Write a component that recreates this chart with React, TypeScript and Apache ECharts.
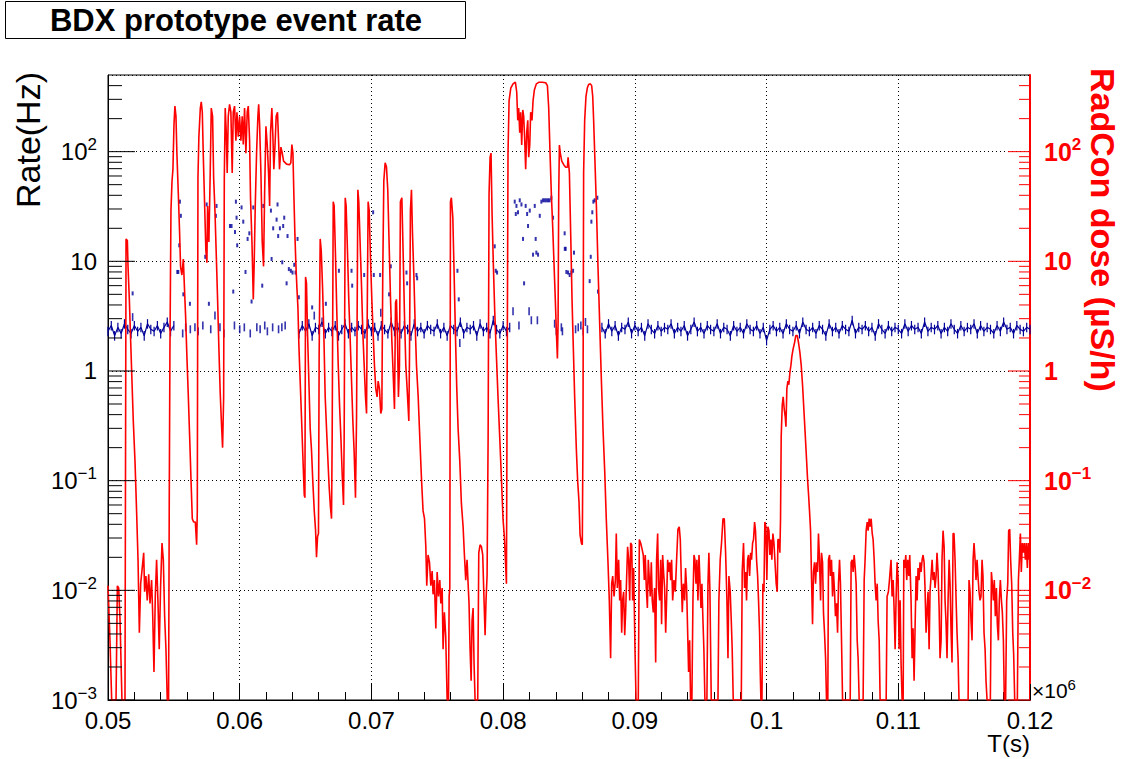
import React, { useEffect, useRef } from "react";
import * as echarts from "echarts";

// time in units of 10^3 s (axis labels are shown in units of 10^6 s)
const T_MIN = 50;
const T_MAX = 120;
const T_STEP = 10;
const Y_MIN = 0.001;
const Y_MAX = 500;

const titleText = "BDX prototype event rate";
const leftAxisTitle = "Rate(Hz)";
const rightAxisTitle = "RadCon dose (\u00b5S/h)";
const xAxisTitle = "T(s)";
const decadeExponents = [-3, -2, -1, 0, 1, 2];

// RadCon dose (uS/h) vs time
const radconDose: [number, number][] = [
  [50.0, 0.011], [50.15, 0.0035], [50.28, 0.001], [50.61, 0.001], [50.71, 0.011], [50.81, 0.0105], [50.91, 0.0055], [51.06, 0.001], [51.29, 0.001],
  [51.37, 16], [51.47, 15.5], [51.52, 9], [51.62, 4.5], [51.72, 1.9], [51.82, 0.81], [51.92, 0.35], [52.05, 0.15], [52.17, 0.053], [52.28, 0.019],
  [52.38, 0.0041], [52.48, 0.0115], [52.6, 0.016], [52.71, 0.022], [52.78, 0.0097], [52.88, 0.0135], [52.98, 0.0081], [53.09, 0.014], [53.19, 0.0076],
  [53.31, 0.0124], [53.39, 0.0063], [53.49, 0.0018], [53.59, 0.0088], [53.69, 0.019], [53.79, 0.0081], [53.89, 0.0029], [53.99, 0.0105], [54.1, 0.027],
  [54.2, 0.019], [54.3, 0.0058], [54.4, 0.0029], [54.5, 0.001], [54.6, 0.001], [54.65, 0.062], [54.7, 1.36], [54.78, 29], [54.86, 54], [54.93, 69],
  [55.01, 177], [55.08, 260], [55.16, 210], [55.23, 97], [55.34, 41], [55.44, 17.6], [55.51, 8.9], [55.61, 7.5], [55.72, 10.5], [55.79, 6.3],
  [55.89, 3.2], [55.99, 1.36], [56.09, 0.63], [56.2, 0.25], [56.3, 0.104], [56.4, 0.045], [56.5, 0.042], [56.63, 0.042], [56.73, 0.026], [56.78, 0.053],
  [56.83, 58], [56.9, 137], [57.01, 250], [57.08, 284], [57.16, 229], [57.23, 97], [57.33, 35], [57.43, 12.5], [57.51, 9.7], [57.56, 32], [57.66, 15],
  [57.76, 64], [57.84, 250], [57.94, 210], [58.02, 58], [58.12, 29], [58.22, 11.5], [58.32, 4.5], [58.42, 1.6], [58.52, 0.63], [58.62, 0.32], [58.7, 0.2],
  [58.78, 0.58], [58.83, 58], [58.9, 250], [58.98, 149], [59.05, 64], [59.13, 210], [59.23, 270], [59.33, 229], [59.43, 64], [59.51, 229], [59.61, 260],
  [59.71, 126], [59.79, 229], [59.89, 137], [59.99, 210], [60.09, 126], [60.19, 210], [60.27, 116], [60.37, 250], [60.47, 97], [60.57, 229], [60.65, 260],
  [60.75, 126], [60.82, 38], [60.93, 15], [61.03, 4.5], [61.1, 9.7], [61.18, 32], [61.28, 97], [61.38, 210], [61.44, 270],
  [61.51, 177], [61.61, 64], [61.71, 15], [61.81, 9], [61.89, 41], [61.99, 170], [62.09, 115], [62.19, 64], [62.27, 32], [62.34, 149], [62.44, 250],
  [62.52, 137], [62.59, 69], [62.67, 107], [62.77, 210], [62.87, 229], [62.95, 126], [63.02, 69], [63.13, 110], [63.23, 97], [63.33, 82], [63.56, 77],
  [63.78, 76], [63.88, 79], [63.96, 116], [64.04, 97], [64.11, 41], [64.19, 17.6], [64.26, 9.7], [64.34, 5.8], [64.42, 3.8], [64.49, 1.75], [64.59, 0.81],
  [64.69, 0.38], [64.8, 0.16], [64.9, 0.074], [64.95, 0.07], [65.0, 7.2], [65.07, 6.3], [65.15, 2.2], [65.25, 0.81], [65.35, 0.3], [65.45, 0.19],
  [65.55, 0.098], [65.66, 0.053], [65.76, 0.035], [65.83, 0.02], [65.91, 0.031], [65.98, 0.033], [66.03, 1.36], [66.11, 16], [66.19, 12.5], [66.29, 5.8],
  [66.39, 2.1], [66.49, 0.58], [66.59, 0.3], [66.69, 0.16], [66.79, 0.088], [66.89, 0.057], [66.97, 0.045], [67.02, 0.25], [67.1, 35], [67.17, 32],
  [67.27, 11.5], [67.37, 3.5], [67.48, 1.13], [67.58, 0.49], [67.68, 0.25], [67.78, 0.115], [67.88, 0.06], [67.93, 0.25], [68.01, 38], [68.08, 32],
  [68.18, 12.5], [68.28, 4.5], [68.39, 1.9], [68.49, 0.81], [68.59, 0.35], [68.69, 0.18], [68.79, 0.07], [68.87, 0.38], [68.97, 45], [69.04, 35],
  [69.14, 15], [69.25, 5.8], [69.35, 2.2], [69.45, 1.13], [69.55, 0.58], [69.63, 0.41], [69.68, 3.2], [69.75, 35], [69.83, 29], [69.93, 10.5],
  [70.03, 4.5], [70.13, 2.2], [70.23, 1.13], [70.33, 0.69], [70.43, 0.58], [70.51, 0.81], [70.61, 0.69], [70.71, 0.41], [70.79, 0.45], [70.86, 7.5],
  [70.94, 54], [71.04, 79], [71.14, 73], [71.24, 45], [71.34, 15], [71.45, 4.5], [71.55, 1.9], [71.65, 0.95], [71.75, 0.45], [71.83, 4.2], [71.9, 4.5],
  [71.98, 1.9], [72.05, 0.58], [72.13, 1.13], [72.2, 35], [72.31, 38], [72.41, 11.5], [72.51, 3.2], [72.61, 1.13], [72.71, 0.69], [72.84, 0.35],
  [72.89, 1.36], [72.96, 29], [73.04, 45],
  [73.12, 17.6], [73.22, 7.5], [73.32, 2.7], [73.42, 1.13], [73.55, 0.58], [73.67, 0.25], [73.8, 0.104], [73.92, 0.053], [74.03, 0.045], [74.13, 0.025],
  [74.2, 0.011], [74.3, 0.021], [74.41, 0.018], [74.51, 0.011], [74.61, 0.015], [74.68, 0.0092], [74.78, 0.0124], [74.89, 0.0045], [74.99, 0.0147],
  [75.09, 0.0088], [75.19, 0.0124], [75.27, 0.0076], [75.37, 0.0105], [75.44, 0.0029], [75.54, 0.0063], [75.64, 0.0038], [75.75, 0.001], [75.85, 0.001],
  [75.9, 0.0088], [75.95, 0.0105], [76.0, 35], [76.07, 38], [76.18, 25], [76.28, 7.5], [76.38, 2.1], [76.48, 0.69], [76.58, 0.3], [76.71, 0.15],
  [76.83, 0.062], [76.96, 0.038], [77.06, 0.021], [77.16, 0.0124], [77.26, 0.019], [77.34, 0.0115], [77.41, 0.0076], [77.49, 0.0029], [77.57, 0.0015],
  [77.64, 0.0053], [77.72, 0.0069], [77.79, 0.0022], [77.87, 0.001], [78.07, 0.001], [78.15, 0.022], [78.25, 0.026], [78.35, 0.025], [78.45, 0.021],
  [78.53, 0.0097], [78.63, 0.0039], [78.7, 0.0081], [78.78, 0.0135], [78.86, 0.25], [78.93, 41], [79.01, 89], [79.08, 97], [79.16, 27], [79.26, 9],
  [79.36, 3.5], [79.49, 1.36], [79.61, 0.58], [79.74, 0.25], [79.87, 0.104], [79.99, 0.045], [80.1, 0.03], [80.17, 0.019], [80.25, 0.0115], [80.3, 0.58],
  [80.37, 97], [80.45, 290], [80.58, 380], [80.75, 415], [80.93, 430], [81.03, 350], [81.11, 193], [81.18, 250], [81.26, 149], [81.33, 229], [81.41, 115],
  [81.49, 240], [81.56, 210], [81.64, 126], [81.71, 69], [81.79, 149], [81.87, 193], [81.94, 89], [82.02, 115], [82.09, 229], [82.19, 193], [82.27, 290],
  [82.37, 365], [82.52, 415], [82.73, 430], [82.98, 430], [83.23, 425], [83.36, 400], [83.46, 250], [83.56, 97], [83.66, 41], [83.76, 21], [83.86, 9.7],
  [83.96, 4.5], [84.04, 2.3], [84.12, 1.3], [84.17, 2.7], [84.22, 41], [84.27, 115], [84.34, 97], [84.45, 82], [84.6, 76], [84.75, 72], [84.88, 72],
  [84.93, 89], [85.03, 64], [85.13, 17.6], [85.23, 4.5], [85.33, 1.6], [85.43, 0.58], [85.56, 0.19], [85.66, 0.098], [85.76, 0.064], [85.84, 0.032],
  [85.94, 0.027], [86.01, 0.026], [86.06, 0.25], [86.11, 64], [86.19, 193], [86.29, 320], [86.39, 380], [86.49, 410], [86.62, 415], [86.72, 400],
  [86.8, 320], [86.87, 193], [86.97, 82], [87.08, 32], [87.2, 9], [87.33, 2.7], [87.46, 0.81], [87.58, 0.3], [87.71, 0.124], [87.83, 0.045],
  [87.96, 0.018], [88.06, 0.0081], [88.16, 0.0024], [88.24, 0.0115], [88.32, 0.0135], [88.42, 0.0088], [88.52, 0.0124], [88.59, 0.033], [88.67, 0.0105],
  [88.77, 0.019], [88.85, 0.0081], [88.92, 0.0124], [89.0, 0.0041], [89.07, 0.0081], [89.15, 0.0097], [89.23, 0.0039], [89.3, 0.0063], [89.38, 0.0135],
  [89.45, 0.025], [89.53, 0.019], [89.61, 0.0081], [89.68, 0.027], [89.76, 0.026], [89.83, 0.0081], [89.91, 0.016], [90.01, 0.0029], [90.09, 0.001],
  [90.26, 0.001], [90.34, 0.029], [90.44, 0.027], [90.54, 0.024], [90.64, 0.021], [90.72, 0.0124], [90.79, 0.021], [90.87, 0.0105], [90.95, 0.0069],
  [91.02, 0.019], [91.1, 0.0124], [91.17, 0.0088], [91.25, 0.018], [91.32, 0.0081], [91.4, 0.0063], [91.5, 0.0105], [91.58, 0.0022], [91.65, 0.019],
  [91.73, 0.033], [91.8, 0.0105], [91.88, 0.0081], [91.96, 0.019], [92.03, 0.0049], [92.11, 0.021], [92.18, 0.0147], [92.26, 0.0105], [92.34, 0.0041],
  [92.41, 0.0081], [92.49, 0.019], [92.56, 0.0147], [92.64, 0.018], [92.72, 0.0124], [92.79, 0.019], [92.87, 0.0081], [92.97, 0.0124], [93.07, 0.0097],
  [93.17, 0.019], [93.27, 0.036], [93.37, 0.038], [93.45, 0.029], [93.52, 0.0135], [93.6, 0.0063], [93.68, 0.0115], [93.78, 0.0081], [93.85, 0.016],
  [93.93, 0.0105], [94.01, 0.0041], [94.08, 0.0018], [94.16, 0.0035], [94.23, 0.001], [94.33, 0.001], [94.41, 0.0081], [94.49, 0.021], [94.56, 0.019],
  [94.64, 0.0115], [94.71, 0.019], [94.79, 0.0081], [94.87, 0.021], [94.94, 0.0124], [95.02, 0.0069], [95.09, 0.0115], [95.17, 0.0053], [95.24, 0.0029],
  [95.32, 0.001], [95.47, 0.001], [95.55, 0.0115], [95.62, 0.022], [95.7, 0.0097], [95.8, 0.001], [96.31, 0.001], [96.38, 0.0081], [96.48, 0.019],
  [96.58, 0.027], [96.69, 0.045],
  [96.79, 0.045], [96.89, 0.022], [96.99, 0.0081], [97.07, 0.0024], [97.14, 0.0135], [97.24, 0.0097], [97.32, 0.0053], [97.39, 0.0029], [97.47, 0.001],
  [98.08, 0.001], [98.15, 0.0147], [98.25, 0.027], [98.33, 0.0105], [98.41, 0.0147], [98.48, 0.0081], [98.56, 0.019], [98.63, 0.021], [98.71, 0.0135],
  [98.79, 0.022], [98.86, 0.019], [98.94, 0.027], [99.01, 0.029], [99.09, 0.042], [99.16, 0.035], [99.24, 0.019], [99.32, 0.0135], [99.39, 0.0081],
  [99.47, 0.0041], [99.52, 0.0018], [99.57, 0.001], [99.65, 0.001], [99.72, 0.0115], [99.8, 0.0097], [99.87, 0.042], [99.95, 0.038], [100.02, 0.0124],
  [100.1, 0.038], [100.18, 0.035], [100.25, 0.021], [100.33, 0.029], [100.4, 0.019], [100.48, 0.033], [100.56, 0.027], [100.63, 0.019], [100.73, 0.0115],
  [100.81, 0.0097], [100.86, 0.029], [100.93, 0.029], [101.01, 0.022], [101.06, 0.045], [101.11, 0.25], [101.19, 0.49], [101.26, 0.58], [101.34, 0.45],
  [101.42, 0.38], [101.47, 0.31], [101.54, 0.69], [101.62, 0.81], [101.69, 0.75], [101.77, 0.97], [101.85, 1.13], [101.92, 1.36], [102.02, 1.6],
  [102.12, 1.8], [102.22, 2.1], [102.33, 2.1], [102.43, 1.8], [102.53, 1.48], [102.63, 1.13], [102.73, 0.75], [102.83, 0.45], [102.93, 0.27],
  [103.03, 0.16], [103.11, 0.104], [103.19, 0.074], [103.26, 0.053], [103.34, 0.035], [103.41, 0.0135], [103.49, 0.0049], [103.56, 0.0147],
  [103.64, 0.018], [103.72, 0.0115], [103.79, 0.018], [103.87, 0.0147], [103.94, 0.033], [104.02, 0.019], [104.1, 0.0081], [104.17, 0.022],
  [104.25, 0.018], [104.32, 0.0063], [104.4, 0.0041], [104.48, 0.0024], [104.55, 0.001], [104.65, 0.001], [104.7, 0.019], [104.78, 0.021],
  [104.85, 0.0135], [104.93, 0.019], [105.01, 0.0088], [105.08, 0.0147], [105.16, 0.0097], [105.23, 0.0058], [105.31, 0.0076], [105.39, 0.0041],
  [105.46, 0.0115], [105.54, 0.019], [105.61, 0.0115], [105.69, 0.0035], [105.77, 0.001], [106.35, 0.001], [106.42, 0.018], [106.5, 0.019],
  [106.57, 0.0147], [106.65, 0.021], [106.73, 0.016], [106.8, 0.0115], [106.88, 0.0035], [106.95, 0.0024], [107.03, 0.001], [107.33, 0.001],
  [107.41, 0.0124], [107.48, 0.019], [107.56, 0.035], [107.64, 0.042], [107.71, 0.035], [107.79, 0.045], [107.86, 0.038], [107.94, 0.045],
  [108.02, 0.033], [108.09, 0.029], [108.17, 0.019], [108.24, 0.0115], [108.32, 0.0081], [108.4, 0.0115], [108.47, 0.0053], [108.55, 0.0035],
  [108.62, 0.001], [109.08, 0.001], [109.15, 0.0088], [109.25, 0.0097], [109.33, 0.0124], [109.45, 0.019], [109.53, 0.0088], [109.61, 0.0124],
  [109.68, 0.0069], [109.76, 0.0029], [109.83, 0.0081], [109.91, 0.018], [109.99, 0.0124], [110.06, 0.0029], [110.14, 0.0081], [110.21, 0.0022],
  [110.29, 0.001], [110.37, 0.001], [110.42, 0.019], [110.49, 0.016], [110.57, 0.021], [110.64, 0.0124], [110.72, 0.019], [110.8, 0.0135],
  [110.87, 0.021], [110.97, 0.0081], [111.05, 0.0024], [111.12, 0.0045], [111.2, 0.0015], [111.28, 0.0049], [111.35, 0.0135], [111.43, 0.0081],
  [111.5, 0.016], [111.58, 0.0124], [111.65, 0.018], [111.73, 0.0147], [111.81, 0.019], [111.88, 0.021], [111.96, 0.018], [112.03, 0.0105],
  [112.11, 0.0041], [112.19, 0.0069], [112.26, 0.0097], [112.34, 0.0029], [112.41, 0.0097], [112.49, 0.0135], [112.57, 0.019], [112.64, 0.0124],
  [112.72, 0.0147], [112.79, 0.0105], [112.87, 0.0135], [112.94, 0.022], [113.02, 0.0147], [113.1, 0.0069], [113.17, 0.0024], [113.25, 0.0035],
  [113.32, 0.019], [113.4, 0.035], [113.48, 0.025], [113.55, 0.0081], [113.63, 0.0049], [113.7, 0.0024], [113.78, 0.0081], [113.86, 0.019],
  [113.93, 0.0115], [114.01, 0.0041], [114.08, 0.0022], [114.16, 0.033], [114.23, 0.033], [114.31, 0.019], [114.39, 0.0081], [114.46, 0.0041],
  [114.54, 0.0024], [114.61, 0.001], [115.3, 0.001], [115.37, 0.0124], [115.45, 0.0097], [115.52, 0.0053], [115.6, 0.0035], [115.68, 0.019],
  [115.75, 0.027], [115.83, 0.019], [115.9, 0.0124], [115.98, 0.019], [116.05, 0.0135], [116.13, 0.0097], [116.21, 0.0081], [116.28, 0.0088],
  [116.36, 0.019], [116.43, 0.0135], [116.51, 0.0041], [116.59, 0.0029], [116.66, 0.0015], [116.74, 0.001], [116.99, 0.001], [117.07, 0.0147],
  [117.14, 0.0115], [117.22, 0.0081], [117.29, 0.0124], [117.37, 0.0058], [117.45, 0.0105], [117.52, 0.0049], [117.6, 0.0035], [117.67, 0.0081],
  [117.75, 0.0124], [117.83, 0.0081], [117.9, 0.0063], [117.98, 0.0035], [118.05, 0.001], [118.15, 0.001], [118.23, 0.0081], [118.31, 0.0115],
  [118.38, 0.035], [118.46, 0.036], [118.53, 0.019], [118.61, 0.0115], [118.69, 0.0041], [118.76, 0.0026], [118.84, 0.001], [119.04, 0.001],
  [119.12, 0.0124], [119.19, 0.019], [119.27, 0.033], [119.34, 0.0147], [119.42, 0.027], [119.49, 0.022], [119.57, 0.027], [119.65, 0.019],
  [119.72, 0.027], [119.8, 0.016], [119.87, 0.027], [119.95, 0.019], [120.0, 0.022],
];

// Event rate (Hz): continuous stretches of uniform bins
const bandStep = 0.25;
const bandErrFrac = 0.1;
const bandAStart = 50;
const bandA = [2.3, 2.6, 2.1, 2.5, 2.2, 2.7, 2.4, 2.2, 2.6, 2.3, 2.5, 2.1, 2.7, 2.4, 2.3, 2.6, 2.2, 2.5, 2.8, 2.3, 2.6];
const bandBStart = 64.5;
const bandB = [
  2.2, 2.6, 2.3, 2.7, 2.1, 2.5, 2.4, 2.8, 2.2, 2.5,
  2.3, 2.6, 2.1, 2.4, 2.7, 2.2, 2.5, 2.3, 2.6, 2.4,
  2.2, 2.7, 2.3, 2.5, 2.1, 2.6, 2.4, 2.2, 2.8, 2.3,
  2.5, 2.2, 2.6, 2.4, 2.1, 2.7, 2.3, 2.5, 2.2, 2.6,
  2.4, 2.3, 2.7, 2.2, 2.5, 2.1, 2.6, 2.4, 2.3, 2.8,
  2.2, 2.5, 2.4, 2.6, 2.1, 2.7, 2.3, 2.5, 2.2, 2.9,
  2.4, 2.2, 2.6, 2.3, 2.5,
];
const bandCStart = 87.5;
const bandC = [
  2.5, 2.2, 2.7, 2.3, 2.6, 2.1, 2.5, 2.4, 2.8, 2.2,
  2.6, 2.3, 2.5, 2.1, 2.7, 2.4, 2.2, 2.6, 2.3, 2.5,
  2.4, 2.7, 2.2, 2.5, 2.3, 2.6, 2.1, 2.4, 2.8, 2.3,
  2.5, 2.2, 2.6, 2.4, 2.3, 2.7, 2.2, 2.5, 2.4, 2.1,
  2.6, 2.3, 2.5, 2.2, 2.7, 2.4, 2.3, 2.6, 2.2, 2.5,
  1.9, 2.4, 2.6, 2.3, 2.5, 2.2, 2.7, 2.4, 2.3, 2.6,
  2.2, 2.8, 2.4, 2.3, 2.5, 2.2, 2.6, 2.4, 2.1, 2.7,
  2.3, 2.5, 2.2, 2.6, 2.4, 2.3, 2.9, 2.2, 2.5, 2.4,
  2.6, 2.3, 2.5, 2.1, 2.7, 2.4, 2.2, 2.6, 2.3, 2.5,
  2.4, 2.2, 2.7, 2.3, 2.6, 2.4, 2.5, 2.2, 2.8, 2.3,
  2.5, 2.4, 2.6, 2.2, 2.5, 2.3, 2.7, 2.4, 2.2, 2.6,
  2.3, 2.5, 2.4, 2.7, 2.2, 2.6, 2.3, 2.5, 2.4, 2.2,
  2.6, 2.3, 2.8, 2.4, 2.5, 2.2, 2.6, 2.4, 2.3, 2.5,
  2.4,
];

// Event rate (Hz): isolated bins (beam-on periods and outliers)
const beamRate: [number, number][] = [
  [51.87, 5.1], [51.87, 3.1],
  [55.26, 8], [55.34, 8], [55.41, 14], [55.46, 35], [55.53, 26], [55.67, 2.2], [55.72, 5], [55.9, 2.5], [56.22, 4.1], [56.25, 2.4], [56.6, 2.5],
  [56.85, 2.3], [57.2, 2.6], [57.38, 11], [57.49, 33], [57.66, 4.1], [57.8, 2.4], [58.12, 3.2], [58.19, 26], [58.24, 32], [58.5, 2.5], [58.8, 2.2],
  [59.26, 21], [59.38, 21], [59.51, 5.3], [59.6, 2.6], [59.64, 18.5], [59.71, 35], [59.76, 25], [59.81, 14], [60.0, 2.4], [60.14, 31], [60.27, 23],
  [60.35, 2.5], [60.44, 8], [60.6, 16], [60.73, 18], [60.8, 2.2], [60.9, 4.3], [61.03, 31], [61.3, 2.5], [61.55, 2.4], [61.71, 6], [61.79, 32],
  [61.9, 2.6], [62.1, 2.3], [62.37, 29], [62.42, 10.5], [62.5, 2.5], [62.54, 20], [62.8, 24], [62.87, 33], [62.92, 17], [62.95, 2.4], [63.05, 20],
  [63.2, 2.5], [63.23, 9.8], [63.3, 21], [63.38, 25], [63.45, 2.6], [63.56, 6.3], [63.63, 17], [63.73, 8.5], [63.88, 8.2], [64.01, 7.9], [64.14, 9.3],
  [64.24, 7.9], [64.39, 16], [64.49, 4.7],
  [65.5, 3.8], [65.66, 3.2], [66.54, 4.1], [67.53, 8.2], [68.49, 8.2], [68.54, 6], [69.45, 7.5], [70.13, 28], [70.18, 7.5], [70.66, 7.5], [70.71, 3.4],
  [71.34, 5], [71.47, 9], [72.66, 7.9], [72.71, 6.3], [73.42, 7.5], [73.47, 7], [76.53, 8.2], [76.63, 4.5], [76.71, 1.8], [79.36, 13.7], [79.44, 8.2],
  [79.54, 7.9],
  [80.75, 3.5], [80.88, 35], [80.96, 27], [81.01, 32], [81.13, 28], [81.2, 2.6], [81.26, 36], [81.39, 33], [81.51, 16], [81.59, 6.3], [81.71, 32],
  [81.82, 27], [81.89, 21], [81.97, 3.5], [82.02, 29], [82.14, 2.9], [82.27, 11.5], [82.4, 32], [82.47, 16], [82.52, 12], [82.6, 2.9], [82.65, 11.5],
  [82.78, 26], [82.9, 35], [83.03, 36], [83.16, 36], [83.28, 36], [83.41, 36], [83.53, 36], [83.66, 38], [83.79, 25], [83.91, 2.7], [84.04, 2.3],
  [84.42, 2.5], [84.5, 2.3], [84.67, 18], [84.68, 13], [84.75, 13], [84.8, 8], [84.93, 7.9], [85.05, 7.5], [85.18, 7.9], [85.31, 8.2], [85.38, 12],
  [85.5, 2.4], [85.7, 2.5], [85.9, 2.6], [86.08, 2.3], [86.25, 2.8], [86.4, 2.4], [86.57, 6.6], [86.65, 11], [86.7, 23], [86.77, 28], [86.85, 35],
  [86.95, 36], [87.15, 38], [87.2, 5.3],
];

const FONT = '"Liberation Sans", Arial, Helvetica, sans-serif';

function bandPoints(start: number, values: number[]) {
  return values.map((v, i) => [start + i * bandStep, v]);
}

function decadeLabel(v: number, showBottom: boolean) {
  const lg = Math.log10(v);
  const e = Math.round(lg);
  if (Math.abs(lg - e) > 1e-6) return "";
  if (!showBottom && e === -3) return "";
  if (e === 0) return "1";
  if (e === 1) return "10";
  return `{b|10}{s|${e < 0 ? "\u2212" : ""}${Math.abs(e)}}`;
}

export default function App() {
  const ref = useRef<HTMLDivElement>(null);

  useEffect(() => {
    if (!ref.current) return;
    const chart = echarts.init(ref.current, undefined, { renderer: "svg" });

    const bandAll = [
      ...bandPoints(bandAStart, bandA),
      ...bandPoints(bandBStart, bandB),
      ...bandPoints(bandCStart, bandC),
    ];
    const blueLine: any[] = [
      ...bandPoints(bandAStart, bandA),
      [55.1, null],
      ...bandPoints(bandBStart, bandB),
      [80.7, null],
      ...bandPoints(bandCStart, bandC),
    ];

    const yTicks: number[][] = [];
    decadeExponents.forEach((e) => {
      for (let m = 1; m <= 9; m++) {
        const v = m * Math.pow(10, e);
        if (v < Y_MAX * 0.999) yTicks.push([T_MIN, v, m === 1 ? 1 : 0]);
      }
    });

    const richLeft = {
      b: { fontSize: 24, fontFamily: FONT, color: "#000" },
      s: { fontSize: 17, fontFamily: FONT, color: "#000", padding: [0, 0, 14, 0] },
    };
    const richRight = {
      b: { fontSize: 25, fontFamily: FONT, color: "#ff0000", fontWeight: "bold" },
      s: { fontSize: 17, fontFamily: FONT, color: "#ff0000", fontWeight: "bold", padding: [0, 0, 14, 0] },
    };

    const option: any = {
      animation: false,
      backgroundColor: "#ffffff",
      grid: {
        left: 108,
        right: 98,
        top: 75,
        bottom: 59,
        show: true,
        borderColor: "#000",
        borderWidth: 1,
        backgroundColor: "#fff",
      },
      xAxis: {
        type: "value",
        min: T_MIN,
        max: T_MAX,
        interval: T_STEP,
        axisLine: { show: true, lineStyle: { color: "#000", width: 1 } },
        axisTick: { show: true, inside: true, length: 16, lineStyle: { color: "#000", width: 1 } },
        minorTick: { show: true, splitNumber: 5, length: 8, lineStyle: { color: "#000", width: 1 } },
        axisLabel: {
          color: "#000",
          fontSize: 24,
          fontFamily: FONT,
          margin: 8,
          formatter: (v: number) => String(+(v / 1000).toFixed(2)),
        },
        splitLine: { show: true, lineStyle: { color: "#000", width: 1, type: [1, 3] } },
      },
      yAxis: [
        {
          type: "log",
          logBase: 10,
          min: Y_MIN,
          max: Y_MAX,
          position: "left",
          axisLine: { show: true, lineStyle: { color: "#000", width: 1 } },
          axisTick: { show: false },
          axisLabel: {
            color: "#000",
            fontSize: 24,
            fontFamily: FONT,
            margin: 11,
            formatter: (v: number) => decadeLabel(v, true),
            rich: richLeft,
          },
          splitLine: { show: true, lineStyle: { color: "#000", width: 1, type: [1, 3] } },
        },
        {
          type: "log",
          logBase: 10,
          min: Y_MIN,
          max: Y_MAX,
          position: "right",
          axisLine: { show: true, lineStyle: { color: "#ff0000", width: 2 } },
          axisTick: { show: false },
          axisLabel: {
            color: "#ff0000",
            fontSize: 25,
            fontWeight: "bold",
            fontFamily: FONT,
            margin: 14,
            formatter: (v: number) => decadeLabel(v, false),
            rich: richRight,
          },
          splitLine: { show: false },
        },
      ],
      series: [
        {
          type: "custom",
          name: "yticks",
          xAxisIndex: 0,
          yAxisIndex: 0,
          silent: true,
          clip: false,
          z: 6,
          encode: { x: 0, y: 1 },
          data: yTicks,
          renderItem: (_params: any, api: any) => {
            const v = api.value(1);
            const major = api.value(2) === 1;
            const pl = api.coord([T_MIN, v]);
            const pr = api.coord([T_MAX, v]);
            return {
              type: "group",
              children: [
                {
                  type: "line",
                  shape: { x1: pl[0], y1: pl[1], x2: pl[0] + (major ? 27 : 14), y2: pl[1] },
                  style: { stroke: "#000", lineWidth: 1 },
                },
                {
                  type: "line",
                  shape: { x1: pr[0] - (major ? 22 : 11), y1: pr[1], x2: pr[0], y2: pr[1] },
                  style: { stroke: "#ff0000", lineWidth: 1 },
                },
              ],
            };
          },
        },
        {
          type: "custom",
          name: "Rate errors",
          xAxisIndex: 0,
          yAxisIndex: 0,
          silent: true,
          z: 3,
          encode: { x: 0, y: 1 },
          data: bandAll,
          renderItem: (_params: any, api: any) => {
            const t = api.value(0);
            const v = api.value(1);
            const lo = api.coord([t, v * (1 - bandErrFrac)]);
            const hi = api.coord([t, v * (1 + bandErrFrac)]);
            return {
              type: "line",
              shape: { x1: lo[0], y1: lo[1], x2: hi[0], y2: hi[1] },
              style: { stroke: "#000099", lineWidth: 1.2 },
            };
          },
        },
        {
          type: "line",
          name: "Rate",
          xAxisIndex: 0,
          yAxisIndex: 0,
          data: blueLine,
          showSymbol: false,
          connectNulls: false,
          silent: true,
          z: 3,
          lineStyle: { color: "#000099", width: 1.2 },
        },
        {
          type: "scatter",
          name: "Rate beam",
          xAxisIndex: 0,
          yAxisIndex: 0,
          data: beamRate,
          symbol: "rect",
          symbolSize: (val: number[]) => (val[1] < 3.6 ? [1.6, 8] : [2, 4]),
          silent: true,
          z: 3,
          itemStyle: { color: "#000099" },
        },
        {
          type: "line",
          name: "RadCon",
          xAxisIndex: 0,
          yAxisIndex: 1,
          data: radconDose,
          showSymbol: false,
          silent: true,
          z: 5,
          lineStyle: { color: "#ff0000", width: 1.6 },
        },
      ],
      graphic: [
        {
          type: "rect",
          shape: { x: 5.5, y: 1.5, width: 460, height: 37 },
          style: { fill: "#fff", stroke: "#000", lineWidth: 1 },
        },
        {
          type: "text",
          x: 236,
          y: 20,
          style: {
            text: titleText,
            font: `bold 31px ${FONT}`,
            fill: "#000",
            textAlign: "center",
            textVerticalAlign: "middle",
          },
        },
        {
          type: "text",
          x: 28,
          y: 72,
          rotation: Math.PI / 2,
          style: {
            text: leftAxisTitle,
            font: `34px ${FONT}`,
            fill: "#000",
            textAlign: "right",
            textVerticalAlign: "middle",
          },
        },
        {
          type: "text",
          x: 1103,
          y: 68,
          rotation: -Math.PI / 2,
          style: {
            text: rightAxisTitle,
            font: `bold 34px ${FONT}`,
            fill: "#ff0000",
            textAlign: "left",
            textVerticalAlign: "middle",
          },
        },
        {
          type: "text",
          x: 1030,
          y: 743,
          style: {
            text: xAxisTitle,
            font: `24px ${FONT}`,
            fill: "#000",
            textAlign: "right",
            textVerticalAlign: "middle",
          },
        },
        {
          type: "text",
          x: 1032,
          y: 690,
          style: {
            text: "{a|\u00d710}{s|6}",
            fill: "#000",
            textAlign: "left",
            textVerticalAlign: "middle",
            rich: {
              a: { fontSize: 21, fontFamily: FONT, fill: "#000" },
              s: { fontSize: 15, fontFamily: FONT, fill: "#000", padding: [0, 0, 12, 0] },
            },
          },
        },
      ],
    };

    chart.setOption(option);
    return () => chart.dispose();
  }, []);

  return (
    <div
      ref={ref}
      style={{ position: "fixed", left: 0, top: 0, width: 1128, height: 759, background: "#fff" }}
    />
  );
}
